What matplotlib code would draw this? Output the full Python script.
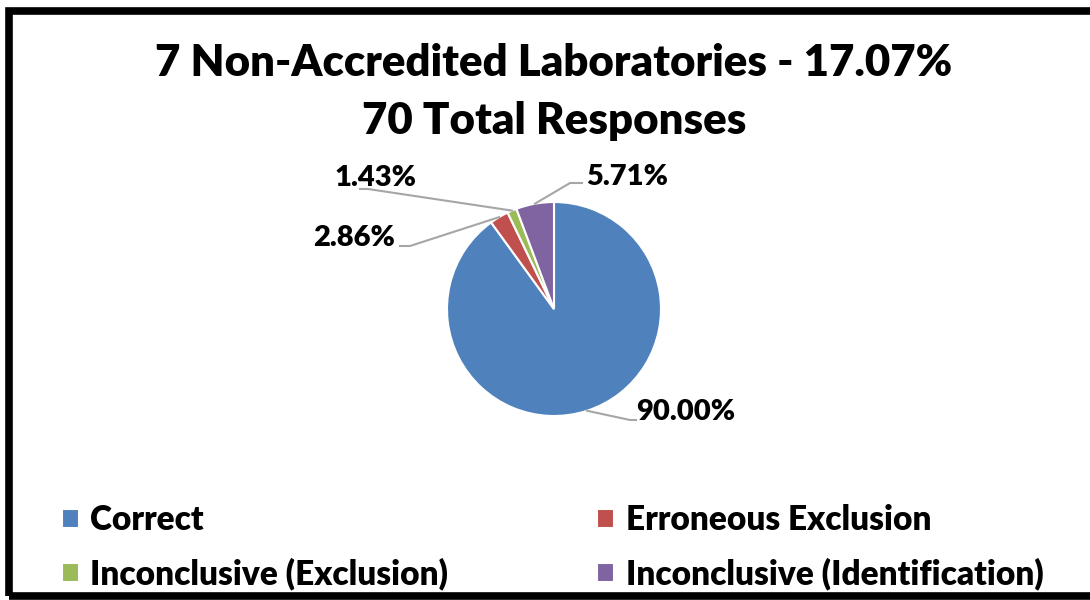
import numpy as np
import matplotlib.pyplot as plt
from matplotlib.patches import Rectangle

# chart data
categories = ["Correct", "Erroneous Exclusion", "Inconclusive (Exclusion)", "Inconclusive (Identification)"]
shares = [90.00, 2.86, 1.43, 5.71]
colors = ["#4F81BD", "#C0504D", "#9BBB59", "#8064A2"]
title_lines = ["7 Non-Accredited Laboratories - 17.07%", "70 Total Responses"]

plt.rcParams['font.family'] = ['Lato', 'DejaVu Sans']
plt.rcParams['font.weight'] = 'bold'

fig = plt.figure(figsize=(10.9, 6.0), dpi=100)
ax = fig.add_axes([0, 0, 1, 1])

# outer frame
ax.add_patch(Rectangle((8.5, 4), 1100, 585, fill=False, edgecolor='black', lw=5.5, clip_on=False))

ax.text(554, 537, title_lines[0], ha='center', va='center', fontsize=31.5, fontweight='heavy')
ax.text(554, 479, title_lines[1], ha='center', va='center', fontsize=31.5, fontweight='heavy')

cx, cy, r = 554, 291, 107
wedges, _ = ax.pie(shares, colors=colors, startangle=90, counterclock=False,
                   center=(cx, cy), radius=r, frame=True,
                   wedgeprops=dict(edgecolor='white', linewidth=1.5))
ax.set_xlim(0, 1090)
ax.set_ylim(0, 600)
ax.set_aspect('equal')
ax.axis('off')

# label anchors, elbow points and short horizontal tails of the leader lines
label_pos = [(636, 188), (395, 362), (417, 422), (586, 423)]
elbows = [(630, 180), (410, 354), (368, 411), (570, 417)]
tails = [6, -10, -8, 12]
label_ha = ['left', 'right', 'right', 'left']
for w, val, (lx, ly), (ex, ey), t, ha in zip(wedges, shares, label_pos, elbows, tails, label_ha):
    ang = np.deg2rad((w.theta1 + w.theta2) / 2)
    px, py = cx + r * np.cos(ang), cy + r * np.sin(ang)
    ax.plot([px, ex, ex + t], [py, ey, ey], color='#A6A6A6', lw=1.5)
    ax.text(lx, ly, f"{val:.2f}%", ha=ha, va='center', fontsize=21, fontweight='heavy')

order = [0, 2, 1, 3]
ax.legend([wedges[i] for i in order], [categories[i] for i in order],
          ncol=2, loc='upper left', bbox_to_anchor=(32 / 1090, 126 / 600),
          frameon=False, handlelength=0.5, handleheight=0.5,
          handletextpad=0.35, columnspacing=4.47, labelspacing=0.65,
          prop=dict(weight='heavy', size=24))

fig.savefig("out.png", dpi=100)
